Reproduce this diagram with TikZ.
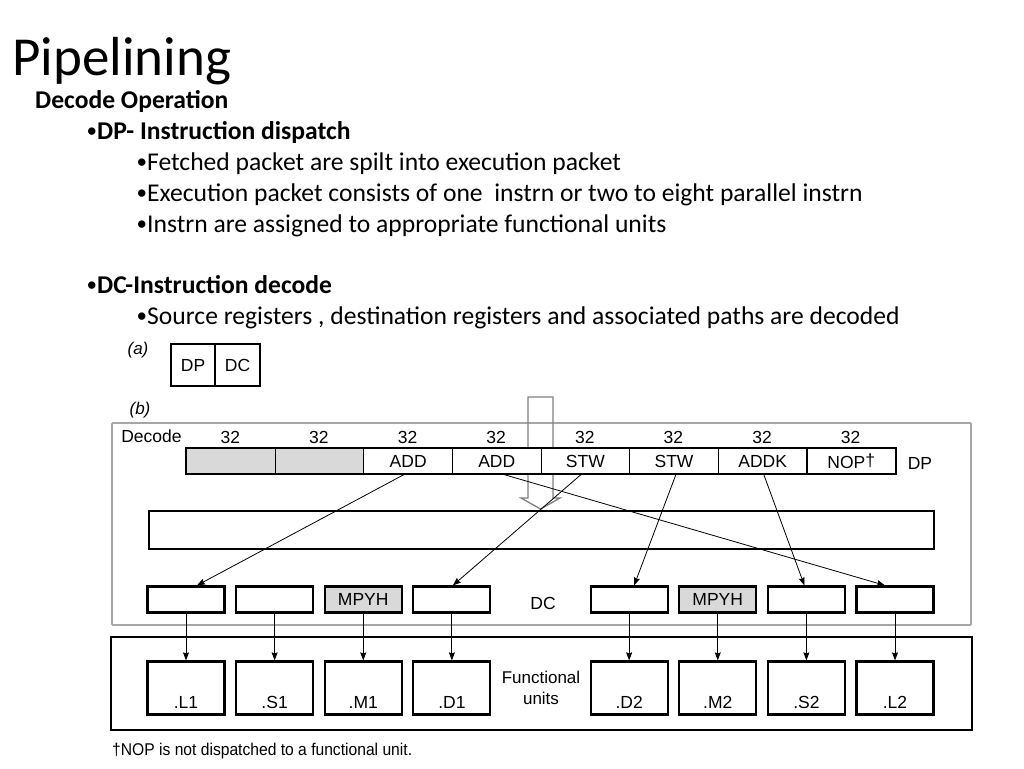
\documentclass[tikz,border=0pt]{standalone}
\usepackage{fontspec}
\setmainfont{Carlito}
\newfontfamily\diagfont{Liberation Sans}
\usetikzlibrary{arrows.meta}
\definecolor{cellgray}{HTML}{D9D9D9}
\definecolor{framegray}{HTML}{A6A6A6}
\definecolor{hollowgray}{HTML}{808080}
\newcommand{\bul}{\makebox[9pt][l]{\hspace{-1.5pt}\raisebox{1.5pt}{\fontsize{21}{21}\selectfont\mdseries •}}}
\begin{document}
\begin{tikzpicture}[x=1pt,y=-1pt,
  txt/.style={anchor=base west,inner sep=0pt,font=\fontsize{25.6}{30}\selectfont},
  btxt/.style={txt,font=\fontsize{25.6}{30}\selectfont\bfseries},
  dg/.style={inner sep=0pt,font=\diagfont\fontsize{17.5}{20}\selectfont},
  cell/.style={draw,line width=1.2pt,minimum width=88.625pt,minimum height=25pt,inner sep=0pt,anchor=north west,fill=white,font=\diagfont\fontsize{17.5}{20}\selectfont},
  gcell/.style={cell,fill=cellgray},
  dcbox/.style={draw,line width=2.2pt,minimum width=77pt,minimum height=26pt,inner sep=0pt,fill=white,font=\diagfont\fontsize{17.5}{20}\selectfont},
  gdcbox/.style={dcbox,fill=cellgray},
  fubox/.style={draw,line width=2.2pt,minimum width=77pt,minimum height=53pt,inner sep=0pt},
  arr/.style={-{Stealth[length=8pt,width=6pt,inset=1pt]},line width=0.8pt},
]
\useasboundingbox (0,0) rectangle (1024,768);
\fill[white] (0,0) rectangle (1024,768);

% ---------- text ----------
\node[anchor=base west,inner sep=0pt,font=\fontsize{55}{60}\selectfont] (title) at (12,75) {Pipelining};
\node[btxt] (t1) at (35,108) {Decode Operation};
\node[btxt] (t2) at (88,139) {\bul DP- Instruction dispatch};
\node[txt] (t3) at (138,170) {\bul Fetched packet are spilt into execution packet};
\node[txt] (t4) at (138,201) {\bul Execution packet consists of one\ \ instrn or two to eight parallel instrn};
\node[txt] (t5) at (138,232) {\bul Instrn are assigned to appropriate functional units};
\node[btxt] (t6) at (88,293) {\bul DC-Instruction decode};
\node[txt] (t7) at (138,324) {\bul Source registers , destination registers and associated paths are decoded};

% ---------- (a) ----------
\node[dg,font=\diagfont\itshape\fontsize{17}{19}\selectfont] (la) at (138,350) {(a)};
\node[draw,line width=2.2pt,minimum width=44pt,minimum height=42pt,inner sep=0pt,anchor=north west,font=\diagfont\fontsize{17.5}{20}\selectfont] (adp) at (170,343) {DP};
\node[draw,line width=2.2pt,minimum width=45pt,minimum height=42pt,inner sep=0pt,anchor=north west,font=\diagfont\fontsize{17.5}{20}\selectfont] (adc) at (214,343) {DC};

% ---------- (b) ----------
\node[dg,font=\diagfont\itshape\fontsize{17}{19}\selectfont] (lb) at (140,410) {(b)};
\draw[framegray,line width=1.8pt,rounded corners=1pt] (112,423) rectangle (971,625);
\node[dg] (decode) at (151.5,436) {Decode};

% hollow arrow (behind the bar)
\draw[hollowgray,line width=1.3pt,line join=miter] (528,397) -- (528,498) -- (521,498) -- (540.5,509) -- (560,498) -- (553,498) -- (553,397) -- cycle;

% register bar
\foreach \i in {0,1} {
  \node[gcell] (c\i) at ({186+\i*88.625},448) {};
}
\foreach \i/\lab in {2/ADD,3/ADD,4/STW,5/STW,6/ADDK} {
  \node[cell] (c\i) at ({186+\i*88.625},448) {\raisebox{-2pt}{\lab}};
}
\node[cell] (c7) at ({186+7*88.625},448) {\raisebox{-2pt}{NOP\raisebox{1.5pt}{†}}};
\draw[line width=2.2pt] (c0.north west) rectangle (c7.south east);
\foreach \i in {0,...,7} {
  \node[dg] (n\i) at ({186+(\i+0.5)*88.625},437) {32};
}
\node[dg] (dp) at (920,463) {DP};

% wide rectangle
\node[draw,line width=2.2pt,minimum width=785pt,minimum height=38pt,inner sep=0pt,anchor=north west] (wide) at (148,510) {};

% DC boxes
\foreach \i/\k in {0/0,1/1,2/2,3/3,5/4,6/5,7/6,8/7} {
  \ifnum\i=2
    \node[gdcbox] (b\k) at ({186+\i*88.625},599.5) {MPYH};
  \else\ifnum\i=6
    \node[gdcbox] (b\k) at ({186+\i*88.625},599.5) {MPYH};
  \else
    \node[dcbox] (b\k) at ({186+\i*88.625},599.5) {};
  \fi\fi
}
\node[dg] (dc) at (543,603) {DC};

% functional units
\draw[line width=1.2pt] (111,637) rectangle (972,730);
\foreach \i/\k/\lab in {0/0/.L1,1/1/.S1,2/2/.M1,3/3/.D1,5/4/.D2,6/5/.M2,7/6/.S2,8/7/.L2} {
  \node[fubox] (f\k) at ({186+\i*88.625},688) {};
  \node[dg] (fl\k) at ({186+\i*88.625},702.5) {\lab};
}
\node[dg,align=center,font=\diagfont\fontsize{17}{21}\selectfont] (fu) at (541,688) {Functional\\units};

% connectors DC -> FU
\foreach \k in {0,...,7} {
  \draw[arr] (b\k.south) -- (f\k.north);
}

% dispatch connectors
\draw[arr] ([xshift=-3.5pt]c2.south) -- ([xshift=11pt]b0.north);
\draw[arr] ([xshift=6pt]c3.south) -- ([xshift=-10pt]b7.north);
\draw[arr] ([xshift=-4pt]c4.south) -- ([xshift=1pt]b3.north);
\draw[arr] ([xshift=2pt]c5.south) -- ([xshift=5pt]b4.north);
\draw[arr] ([xshift=1pt]c6.south) -- ([xshift=-2pt]b6.north);

% footnote
\node[anchor=west,inner sep=0pt,font=\diagfont\fontsize{17}{19}\selectfont] (foot) at (112,751) {\scalebox{0.92}[1]{†NOP is not dispatched to a functional unit.}};
\end{tikzpicture}
\end{document}
